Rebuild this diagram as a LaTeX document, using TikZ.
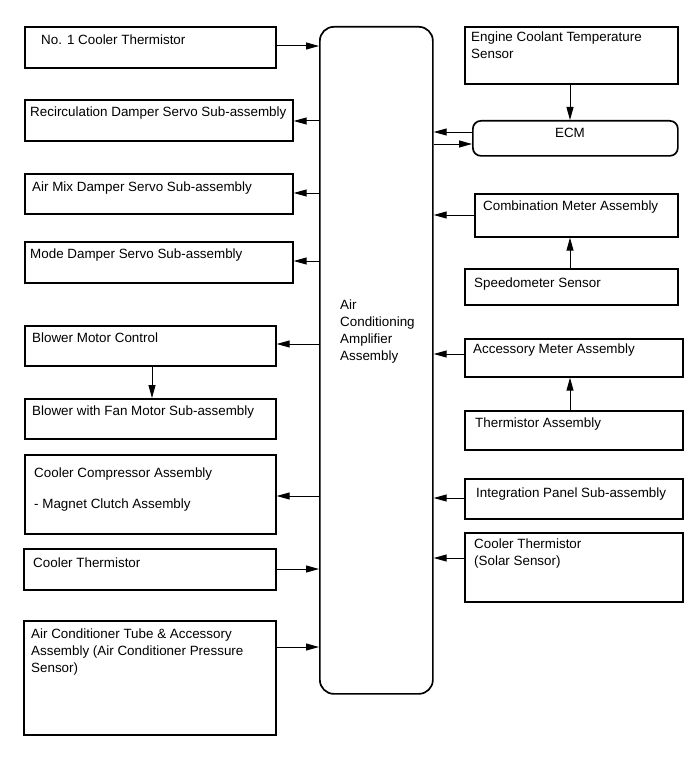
\documentclass[tikz,border=0pt]{standalone}
\usepackage{fontspec}
\setmainfont{Liberation Sans}
\usetikzlibrary{arrows.meta}
\newcommand\fs{\fontsize{13.4}{17}\selectfont}
\newcommand\bx[5]{\node[box,minimum width={#4-#2},minimum height={#5-#3}] (#1) at (#2,#3) {};}
\begin{document}
\begin{tikzpicture}[x=1pt,y=-1pt,
  box/.style={draw,line width=1.7pt,anchor=north west,inner sep=0pt},
  lbl/.style={anchor=base west,inner sep=0pt,align=left,font=\fs},
  arr/.style={line width=1pt,-{Triangle[length=13pt,width=7pt]}}]
\useasboundingbox (0,0) rectangle (690,757);
% central unit
\node[box,rounded corners=14pt,minimum width=113,minimum height=667] (amp) at (319,26) {};
\node[lbl] (ampt) at (340,360) {Air\\Conditioning\\Amplifier\\Assembly};
% left column
\bx{n1}{24}{26}{275}{67}
\node[lbl] (n1t) at (41,44.8) {No. 1 Cooler Thermistor};
\bx{rec}{24}{99}{292}{140}
\node[lbl] (rect) at (30,117) {Recirculation Damper Servo Sub-assembly};
\bx{mix}{24}{173}{292}{213}
\node[lbl] (mixt) at (32,191) {Air Mix Damper Servo Sub-assembly};
\bx{mode}{24}{241}{292}{282}
\node[lbl] (modet) at (30,258) {Mode Damper Servo Sub-assembly};
\bx{bmc}{24}{325}{275}{365}
\node[lbl] (bmct) at (32,342) {Blower Motor Control};
\bx{bfm}{24}{398}{275}{438}
\node[lbl] (bfmt) at (32,415) {Blower with Fan Motor Sub-assembly};
\bx{cmp}{24}{454}{275}{533}
\node[lbl] (cmpt) at (34,508) {Cooler Compressor Assembly\\[14pt]- Magnet Clutch Assembly};
\bx{cth}{23}{548}{275}{589}
\node[lbl] (ctht) at (33,567) {Cooler Thermistor};
\bx{act}{23}{620}{275}{734}
\node[lbl] (actt) at (31,672) {Air Conditioner Tube \& Accessory\\Assembly (Air Conditioner Pressure\\Sensor)};
% right column
\bx{eng}{464}{26}{677}{83}
\node[lbl] (engt) at (471,59) {Engine Coolant Temperature\\Sensor};
\node[box,rounded corners=8pt,minimum width=205,minimum height=35] (ecm) at (472,120) {};
\node[anchor=base,inner sep=0pt,font=\fs] (ecmt) at (570,137.8) {ECM};
\bx{comb}{474}{193}{677}{236}
\node[lbl] (combt) at (483,210) {Combination Meter Assembly};
\bx{spd}{464}{268}{677}{304}
\node[lbl] (spdt) at (474,287) {Speedometer Sensor};
\bx{acc}{464}{338}{682}{376}
\node[lbl] (acct) at (473,353) {Accessory Meter Assembly};
\bx{thm}{464}{410}{682}{449}
\node[lbl] (thmt) at (475,427) {Thermistor Assembly};
\bx{ipl}{464}{478}{682}{518}
\node[lbl] (iplt) at (476,497) {Integration Panel Sub-assembly};
\bx{sol}{464}{532}{682}{601}
\node[lbl] (solt) at (474,565) {Cooler Thermistor\\(Solar Sensor)};
% connectors left
\draw[arr] (n1.east |- 0,46) -- (amp.west |- 0,46);
\draw[arr] (amp.west |- 0,121) -- (rec.east |- 0,121);
\draw[arr] (amp.west |- 0,193) -- (mix.east |- 0,193);
\draw[arr] (amp.west |- 0,261) -- (mode.east |- 0,261);
\draw[arr] (amp.west |- 0,344) -- (bmc.east |- 0,344);
\draw[arr] (bmc.south -| 152,0) -- (bfm.north -| 152,0);
\draw[arr] (amp.west |- 0,496) -- (cmp.east |- 0,496);
\draw[arr] (cth.east |- 0,569) -- (amp.west |- 0,569);
\draw[arr] (act.east |- 0,647) -- (amp.west |- 0,647);
% connectors right
\draw[arr] (eng.south -| 570,0) -- (ecm.north -| 570,0);
\draw[arr] (ecm.west |- 0,132) -- (amp.east |- 0,132);
\draw[arr] (amp.east |- 0,144) -- (ecm.west |- 0,144);
\draw[arr] (comb.west |- 0,215) -- (amp.east |- 0,215);
\draw[arr] (spd.north -| 570,0) -- (comb.south -| 570,0);
\draw[arr] (acc.west |- 0,354) -- (amp.east |- 0,354);
\draw[arr] (thm.north -| 570,0) -- (acc.south -| 570,0);
\draw[arr] (ipl.west |- 0,498) -- (amp.east |- 0,498);
\draw[arr] (sol.west |- 0,558) -- (amp.east |- 0,558);
\end{tikzpicture}
\end{document}
